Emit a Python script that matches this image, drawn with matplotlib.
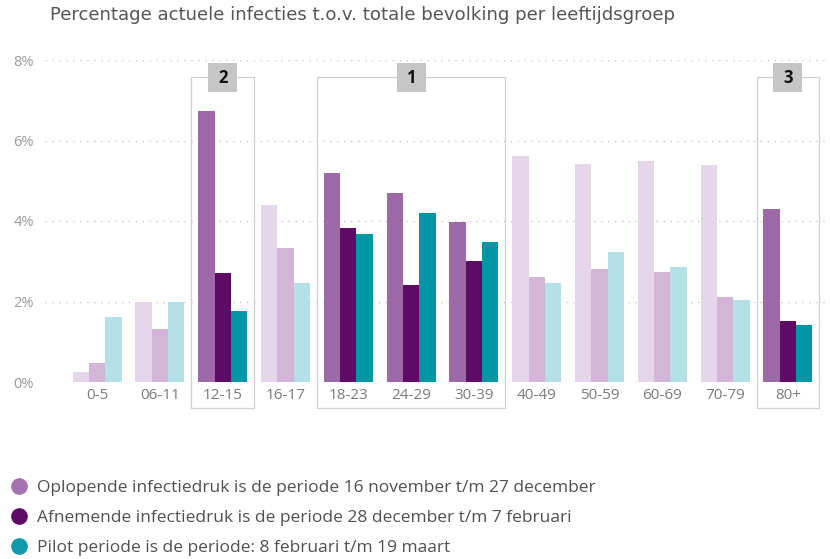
import matplotlib
matplotlib.use("Agg")
import matplotlib.pyplot as plt
from matplotlib.lines import Line2D
from matplotlib.patches import Rectangle
import numpy as np

plt.rcParams['font.family'] = ['Open Sans', 'DejaVu Sans']

categories = ["0-5", "06-11", "12-15", "16-17", "18-23", "24-29", "30-39",
              "40-49", "50-59", "60-69", "70-79", "80+"]
oplopend = [0.25, 2.0, 6.73, 4.4, 5.19, 4.70, 3.97, 5.61, 5.42, 5.50, 5.38, 4.31]
afnemend = [0.47, 1.32, 2.72, 3.34, 3.83, 2.42, 3.00, 2.62, 2.81, 2.73, 2.11, 1.52]
pilot = [1.62, 2.0, 1.77, 2.45, 3.67, 4.21, 3.49, 2.46, 3.24, 2.86, 2.04, 1.42]
series_names = ["Oplopende infectiedruk is de periode 16 november t/m 27 december",
                "Afnemende infectiedruk is de periode 28 december t/m 7 februari",
                "Pilot periode is de periode: 8 februari t/m 19 maart"]
highlighted = ["12-15", "18-23", "24-29", "30-39", "80+"]
groups = [("2", ["12-15"]), ("1", ["18-23", "24-29", "30-39"]), ("3", ["80+"])]
yticks = [0, 2, 4, 6, 8]

full_colors = ["#9D6AA7", "#5E0B66", "#0096A6"]
faded_colors = ["#E6D6E9", "#D3B5D7", "#B3E1E7"]
legend_colors = ["#A375AD", "#5E0B66", "#0E9AA9"]

fig = plt.figure(figsize=(8.3, 5.59), dpi=100)
ax = fig.add_axes([45/830, 1-382/559, 1-45/830, 322/559])

x = np.arange(len(categories))
w = 0.26
for s, vals in enumerate([oplopend, afnemend, pilot]):
    cols = [full_colors[s] if c in highlighted else faded_colors[s] for c in categories]
    ax.bar(x + (s-1)*w, vals, width=w, color=cols, zorder=2)

ax.set_ylim(0, 8)
ax.set_xlim(-0.83, 11.67)
ax.set_yticks(yticks)
ax.set_yticklabels([f"{t}%" for t in yticks], color="#9a9a9a", fontsize=10.5)
ax.set_xticks(x)
ax.set_xticklabels(categories, color="#7a7a7a", fontsize=11)
ax.tick_params(length=0, pad=4)
ax.tick_params(axis='y', pad=8)
for sp in ax.spines.values():
    sp.set_visible(False)
ax.yaxis.grid(True, linestyle=(0, (1, 4)), color="#c8c8c8", linewidth=1, zorder=0)
ax.set_axisbelow(True)

# highlight boxes
for label, cats in groups:
    idx = [categories.index(c) for c in cats]
    x0 = min(idx) - 0.5
    x1 = max(idx) + 0.5
    ax.add_patch(Rectangle((x0, -0.65), x1 - x0, 7.58 + 0.65, fill=False,
                           edgecolor="#d0d0d0", linewidth=0.9, clip_on=False, zorder=1))
    xc = (x0 + x1) / 2
    ax.add_patch(Rectangle((xc - 0.23, 7.2), 0.46, 0.73, facecolor="#c6c6c6",
                           edgecolor="none", clip_on=False, zorder=3))
    ax.text(xc, 7.56, label, ha="center", va="center", fontsize=12,
            fontweight="bold", color="#111111", zorder=4, clip_on=False)

fig.text(50/830, 1-15/559, "Percentage actuele infecties t.o.v. totale bevolking per leeftijdsgroep",
         fontsize=13.1, color="#555555", va="center", ha="left", family="DejaVu Sans")

handles = [Line2D([], [], marker='o', linestyle='none', markersize=11,
                  markerfacecolor=c, markeredgecolor=c) for c in legend_colors]
fig.legend(handles, series_names, loc="upper left", bbox_to_anchor=(3/830, 1-473/559),
           frameon=False, fontsize=12.5, labelcolor="#505050", handletextpad=0.45,
           labelspacing=0.8, borderaxespad=0, handlelength=1.1)

fig.savefig("out.png", dpi=100)
